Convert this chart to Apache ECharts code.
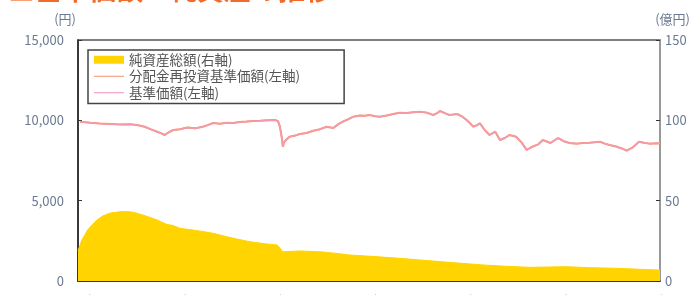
<!DOCTYPE html>
<html><head><meta charset="utf-8">
<script src="https://cdn.jsdelivr.net/npm/echarts@6/dist/echarts.min.js"></script>
<style>html,body{margin:0;padding:0;background:#fff;}#c{width:700px;height:295px;}</style>
</head><body><div id="c"></div>
<script>
// x values: years elapsed since start (decimal), yearly ticks
var priceTimes = [0.02,0.13,0.23,0.34,0.44,0.55,0.62,0.70,0.76,0.83,0.87,0.91,0.95,1.00,1.07,1.15,1.23,1.31,1.36,1.42,1.49,1.56,1.63,1.70,1.77,1.84,1.91,1.99,2.07,2.10,2.12,2.14,2.15,2.17,2.19,2.22,2.28,2.33,2.40,2.47,2.54,2.61,2.68,2.73,2.78,2.83,2.89,2.96,3.01,3.06,3.12,3.17,3.24,3.31,3.38,3.45,3.52,3.59,3.66,3.73,3.77,3.80,3.85,3.90,3.98,4.03,4.08,4.11,4.15,4.19,4.22,4.27,4.32,4.38,4.43,4.48,4.53,4.60,4.66,4.71,4.77,4.83,4.88,4.96,5.04,5.10,5.16,5.24,5.30,5.37,5.48,5.53,5.58,5.66,5.71,5.76,5.82,5.89,5.94,6.00,6.08,6.11];
var basePrice = [9915,9850,9800,9772,9740,9760,9709,9600,9450,9292,9200,9087,9250,9398,9450,9550,9500,9604,9700,9834,9790,9850,9834,9900,9920,9960,9977,10000,10021,9950,9604,8900,8359,8700,8600,8981,9050,9150,9212,9350,9450,9604,9523,9750,9915,10050,10226,10300,10280,10332,10250,10226,10300,10400,10475,10450,10500,10537,10480,10332,10450,10581,10450,10332,10394,10250,10021,9850,9604,9700,9815,9400,9087,9292,8776,8900,9087,8981,8600,8153,8359,8500,8776,8589,8900,8700,8589,8550,8589,8600,8670,8550,8465,8350,8250,8110,8300,8670,8600,8550,8570,8550];
var reinvestPrice = basePrice.slice(); // no distributions: identical to base price
var assetTimes = [0,0.02,0.04,0.07,0.10,0.15,0.20,0.26,0.34,0.44,0.51,0.58,0.68,0.76,0.83,0.93,1.00,1.07,1.21,1.31,1.42,1.52,1.63,1.80,1.96,2.09,2.12,2.15,2.33,2.54,2.70,2.85,3.12,3.38,3.69,3.96,4.25,4.48,4.74,5.13,5.37,5.66,5.89,6.11];
var netAssets = [19,22,25.5,28.5,31.7,35,38,40.5,42.3,43.1,43.3,42.8,41.1,39.5,38.0,35.3,34.5,32.8,31.7,30.8,29.7,28.2,26.6,24.5,23.2,22.4,20.5,18.2,18.7,18.2,17.3,16.2,15.2,14.1,12.6,11.3,10.0,9.2,8.5,8.9,8.3,7.9,7.3,6.8];
var leftTicks = [0,5000,10000,15000];
var rightTicks = [0,50,100,150];
var seriesNames = ['純資産総額(右軸)','分配金再投資基準価額(左軸)','基準価額(左軸)'];
var titleText = '■基準価額・純資産の推移';

function pairs(xs, ys){ return xs.map(function(x,i){ return [x, ys[i]]; }); }

var chart = echarts.init(document.getElementById('c'), null, {renderer:'canvas'});
var axisLabelColor = '#6b7a92';
chart.setOption({
  animation:false,
  textStyle:{fontFamily:'"Noto Sans CJK JP","Noto Sans",sans-serif'},
  graphic:[{type:'text', left:8, top:-24, style:{text:titleText, fill:'#f26a2a', font:'bold 27px "Noto Sans CJK JP"'}}],
  grid:{left:78, right:40, top:40, bottom:14, outerBoundsMode:'none', containLabel:false, show:true, borderColor:'#555', borderWidth:1.5, backgroundColor:'transparent'},
  legend:{
    orient:'vertical', left:88, top:50,
    padding:[3,44,4,6], itemGap:3, itemWidth:30, itemHeight:8,
    borderColor:'#444', borderWidth:1.5, backgroundColor:'#fff',
    textStyle:{fontSize:13.5, color:'#555'},
    data:[
      {name:seriesNames[0], icon:'rect'},
      {name:seriesNames[1], icon:'path://M0,4L30,4L30,5L0,5Z'},
      {name:seriesNames[2], icon:'path://M0,4L30,4L30,5L0,5Z'}
    ]
  },
  xAxis:{
    type:'value', min:0, max:6.11, interval:1,
    axisLine:{lineStyle:{color:'#222', width:1.5}},
    axisTick:{inside:true, length:5, lineStyle:{color:'#333'}},
    axisLabel:{margin:12, color:'#f08aa0', fontSize:12, formatter:function(v){return (2013+v)+'/1';}, showMaxLabel:false},
    splitLine:{show:false}
  },
  yAxis:[
    {type:'value', min:leftTicks[0], max:leftTicks[leftTicks.length-1], interval:5000,
     name:'(円)', nameLocation:'end', nameGap:14, nameTextStyle:{color:axisLabelColor, fontSize:13, align:'right', padding:[0,2,0,0]},
     axisLine:{show:true, lineStyle:{color:'#222', width:1.5}},
     axisTick:{show:true, inside:true, length:4, lineStyle:{color:'#333'}},
     axisLabel:{color:axisLabelColor, fontSize:13, margin:14, formatter:function(v){return v.toLocaleString('en-US');}},
     splitLine:{show:false}},
    {type:'value', min:rightTicks[0], max:rightTicks[rightTicks.length-1], interval:50, position:'right',
     name:'(億円)', nameLocation:'end', nameGap:14, nameTextStyle:{color:axisLabelColor, fontSize:13, align:'right', padding:[0,-30,0,0]},
     axisLine:{show:true, lineStyle:{color:'#999', width:2}},
     axisTick:{show:true, inside:true, length:4, lineStyle:{color:'#333'}},
     axisLabel:{color:axisLabelColor, fontSize:13, margin:5},
     splitLine:{show:false}}
  ],
  series:[
    {name:seriesNames[0], type:'line', yAxisIndex:1, data:pairs(assetTimes, netAssets), showSymbol:false,
     lineStyle:{color:'#ffd400', width:1}, itemStyle:{color:'#ffd400'}, areaStyle:{color:'#ffd400', opacity:1}, z:1},
    {name:seriesNames[1], type:'line', yAxisIndex:0, data:pairs(priceTimes, reinvestPrice), showSymbol:false,
     lineStyle:{color:'#f5906e', width:2}, itemStyle:{color:'#f5906e'}, z:2},
    {name:seriesNames[2], type:'line', yAxisIndex:0, data:pairs(priceTimes, basePrice), showSymbol:false,
     lineStyle:{color:'#f59aaa', width:1.6}, itemStyle:{color:'#f08cc0'}, z:3}
  ]
});
</script></body></html>
